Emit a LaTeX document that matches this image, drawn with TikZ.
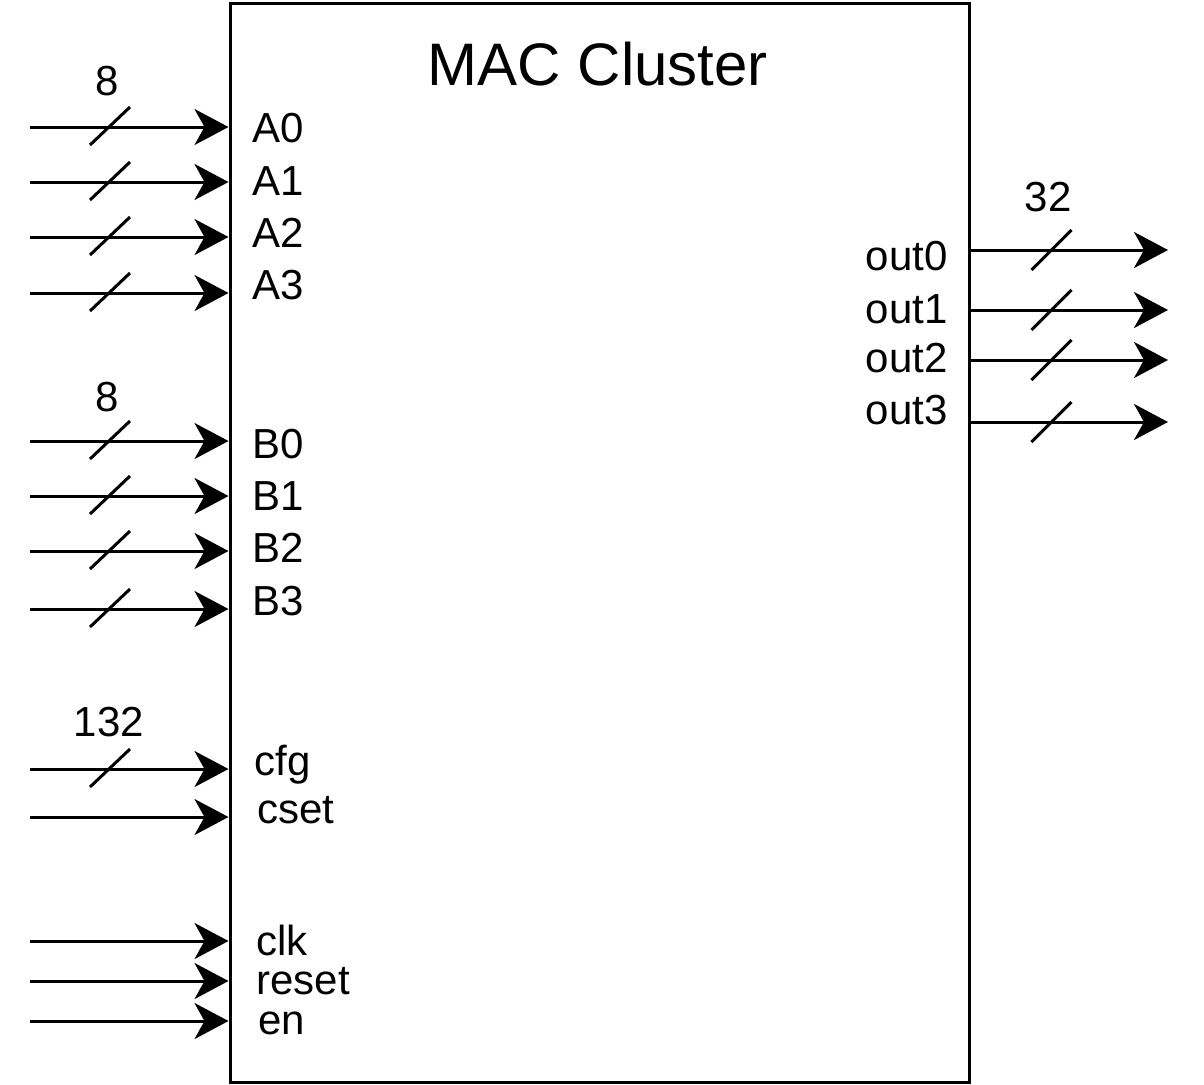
\documentclass[tikz,border=0pt]{standalone}
\usepackage{fontspec}
\setmainfont{Liberation Sans}
\usetikzlibrary{arrows.meta}
\newcommand{\pinfont}{\fontsize{21}{24}\selectfont}
\newcommand{\titlefont}{\fontsize{30}{34}\selectfont}
\tikzset{
 every node/.append style={font=\pinfont,text=black,inner sep=0pt},
 block/.style={draw,line width=1.5pt,minimum width=369.5pt,minimum height=539.5pt,inner sep=0pt},
 title/.style={font=\titlefont,anchor=base},
 pin/.style={anchor=base west},
 outpin/.style={anchor=base east},
 width/.style={anchor=base},
 wire/.style={-{Stealth[length=17pt,width=18pt,inset=5pt]},line width=1.5pt},
 slash/.style={line width=1.5pt},
}

\begin{document}
\begin{tikzpicture}[x=0.5pt,y=-0.5pt]

\useasboundingbox (0,0) rectangle (1204,1084);
\node[block] (mac) at (599.5,542.5) {};
\node[title] (name) at (598,85) {MAC Cluster};

\foreach \n/\y/\b/\x in {A0/127/142/252,A1/182/195/252,A2/237/247/252,A3/293/299/252,B0/441/458/252,B1/496/510/252,B2/551/562/252,B3/609/615/252,cfg/769/775/254}{
  \coordinate (s\n) at (30,\y);
  \draw[wire] (s\n) -- (s\n -| mac.west);
  \draw[slash] (s\n) ++(60,18) -- ++(40,-38);
  \node[pin] (l\n) at (\x,\b) {\n};
}
\foreach \n/\y/\b/\x in {cset/817/823/257,clk/941/955/256,reset/981/994/256,en/1021/1034/258}{
  \coordinate (s\n) at (30,\y);
  \draw[wire] (s\n) -- (s\n -| mac.west);
  \node[pin] (l\n) at (\x,\b) {\n};
}
\foreach \n/\y/\b in {out0/250/270,out1/310/323,out2/360/372,out3/422/424}{
  \coordinate (e\n) at (1168,\y);
  \draw[wire] (e\n -| mac.east) -- (e\n);
  \draw[slash] (e\n -| mac.east) ++(61,20) -- ++(40,-40);
  \node[outpin] (l\n) at (948,\b) {\n};
}

\node[width] (wa) at (107,95) {8};
\node[width] (wb) at (107,411) {8};
\node[width] (wc) at (109,736) {132};
\node[width] (wo) at (1048,211) {32};

\end{tikzpicture}
\end{document}
